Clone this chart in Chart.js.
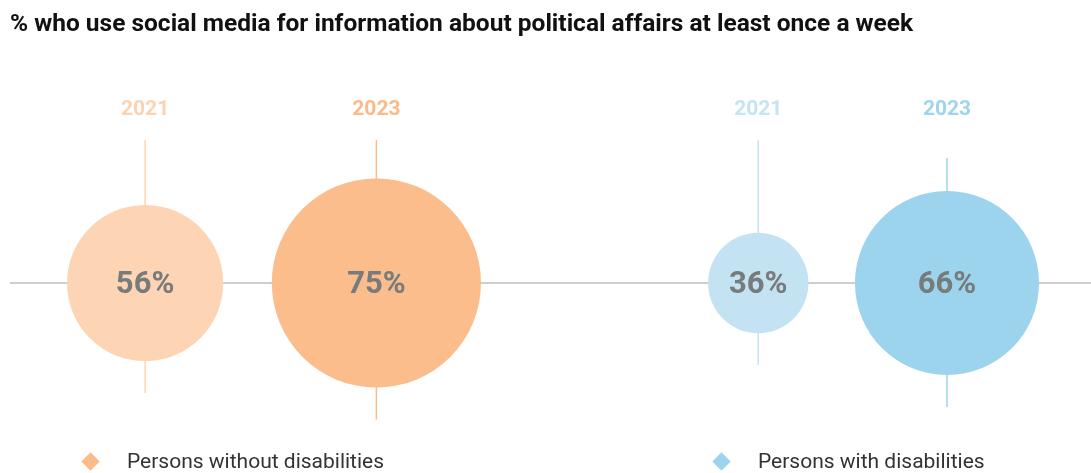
<!DOCTYPE html>
<html>
<head>
<meta charset="utf-8">
<script src="https://cdn.jsdelivr.net/npm/chart.js@4.4.1/dist/chart.umd.min.js"></script>
<style>
  html, body { margin: 0; padding: 0; background: #ffffff; }
  body { width: 1091px; height: 473px; position: relative; overflow: hidden; font-family: Roboto, "Liberation Sans", sans-serif; }
  #title { position: absolute; left: 10px; top: 8px; font-size: 24.5px; line-height: 30px; font-weight: 700; color: #111111; white-space: nowrap; }
  #wrap { position: absolute; left: 0; top: 0; width: 1091px; height: 473px; }
  .legend { position: absolute; top: 447px; height: 28px; display: flex; align-items: center; font-size: 21px; color: #333333; white-space: nowrap; }
  .legend .sw { width: 13px; height: 13px; transform: rotate(45deg); margin-right: 30px; }
</style>
</head>
<body>
<div id="wrap"><canvas id="c" width="1091" height="473"></canvas></div>
<div id="title">% who use social media for information about political affairs at least once a week</div>
<div class="legend" style="left:84px"><span class="sw" style="background:#FBBC8A"></span><span id="lg0"></span></div>
<div class="legend" style="left:715px"><span class="sw" style="background:#9CD4ED"></span><span id="lg1"></span></div>
<script>
// ---- data ----
const groups = ['Persons without disabilities', 'Persons with disabilities'];
const years = ['2021', '2023'];
const withoutDisabilities = [56, 75];   // %
const withDisabilities = [36, 66];      // %

// ---- layout & style ----
const SLOT_X = [[13.3, 34.5], [69.5, 86.8]];      // horizontal slot of each bubble, 0..100 scale
const R_PER_PCT = 1.3945;                          // bubble radius (px) per percentage point
const WHISKER_TOP = [[140, 140], [140, 158]];      // upper end of each vertical guide (px)
const WHISKER_BELOW = 32;                          // guide length below each bubble (px)
const FILLS = [['#FDD5B4', '#FBBD8B'], ['#C3E3F3', '#9CD4ED']];
const YEAR_COLORS = [['#FCD3B1', '#FBBA87'], ['#C4E4F4', '#9DD5EE']];
const LABEL_COLOR = '#777B7B';
const AXIS_COLOR = '#9E9E9E';

document.getElementById('lg0').textContent = groups[0];
document.getElementById('lg1').textContent = groups[1];

const seriesValues = [withoutDisabilities, withDisabilities];

const datasets = seriesValues.map((vals, g) => ({
  label: groups[g],
  data: vals.map((v, i) => ({ x: SLOT_X[g][i], y: 0, r: v * R_PER_PCT, v: v, year: years[i] })),
  backgroundColor: FILLS[g],
  borderWidth: 0,
  hoverBorderWidth: 0,
  hoverRadius: 0
}));

// baseline, vertical guides, year captions and value labels
const decor = {
  id: 'decor',
  beforeDatasetsDraw(chart) {
    const ctx = chart.ctx;
    const y0 = chart.scales.y.getPixelForValue(0);
    ctx.save();
    ctx.strokeStyle = AXIS_COLOR;
    ctx.lineWidth = 1.2;
    ctx.beginPath();
    ctx.moveTo(10, y0);
    ctx.lineTo(chart.width, y0);
    ctx.stroke();
    chart.data.datasets.forEach((ds, g) => {
      chart.getDatasetMeta(g).data.forEach((el, i) => {
        const r = ds.data[i].r;
        ctx.strokeStyle = FILLS[g][i];
        ctx.lineWidth = 1.5;
        ctx.beginPath();
        ctx.moveTo(el.x, WHISKER_TOP[g][i]);
        ctx.lineTo(el.x, el.y + r + WHISKER_BELOW);
        ctx.stroke();
      });
    });
    ctx.restore();
  },
  afterDatasetsDraw(chart) {
    const ctx = chart.ctx;
    ctx.save();
    ctx.textAlign = 'center';
    ctx.textBaseline = 'middle';
    chart.data.datasets.forEach((ds, g) => {
      chart.getDatasetMeta(g).data.forEach((el, i) => {
        const d = ds.data[i];
        ctx.fillStyle = YEAR_COLORS[g][i];
        ctx.font = '700 21px Roboto';
        ctx.fillText(d.year, el.x, 110);
        ctx.fillStyle = LABEL_COLOR;
        ctx.font = '700 31px Roboto';
        ctx.fillText(d.v + '%', el.x, el.y + 2);
      });
    });
    ctx.restore();
  }
};

new Chart(document.getElementById('c'), {
  type: 'bubble',
  data: { datasets },
  plugins: [decor],
  options: {
    responsive: false,
    animation: false,
    events: [],
    layout: { autoPadding: false, padding: { top: 93, bottom: 0, left: 0, right: 0 } },
    plugins: { legend: { display: false }, tooltip: { enabled: false } },
    scales: {
      x: { type: 'linear', min: 0, max: 100, display: false },
      y: { type: 'linear', min: -1, max: 1, display: false }
    }
  }
});
</script>
</body>
</html>
